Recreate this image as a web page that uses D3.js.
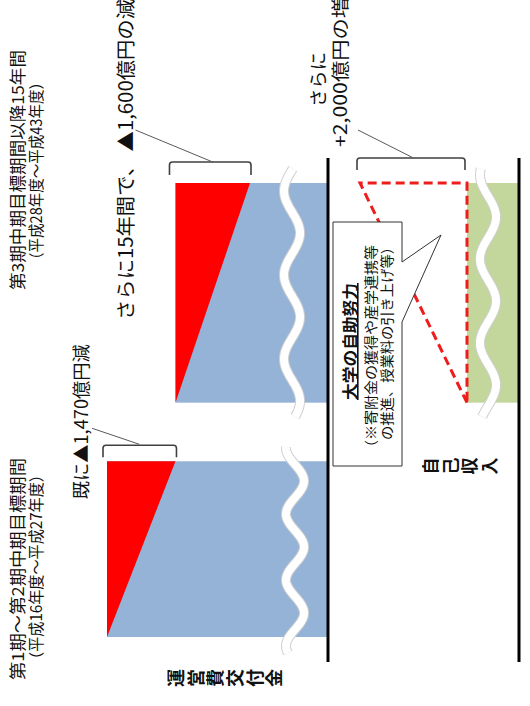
<!DOCTYPE html>
<html>
<head>
<meta charset="utf-8">
<script src="https://cdn.jsdelivr.net/npm/d3@7"></script>
<style>
  html, body { margin: 0; padding: 0; background: #fff; }
  svg { display: block; }
  text { font-family: "Noto Sans CJK JP", "Noto Sans", sans-serif; fill: #111; }
</style>
</head>
<body>
<svg id="chart" width="530" height="706"></svg>
<script>
// ---- data -------------------------------------------------------------
const periodTitles = ["第1期〜第2期中期目標期間", "第3期中期目標期間以降15年間"];
const periodSpans  = ["（平成16年度〜平成27年度）", "（平成28年度〜平成43年度）"];
const periodYears  = [12, 15];

// operating grant (億円): level at the start and at the end of each period
const grantStart = [12415, 10945];
const grantEnd   = [10945, 9345];

// growth of self income over the 3rd period onwards (億円)
const selfIncrease = [2000];

const changeLabels   = ["既に▲1,470億円減", "さらに15年間で、 ▲1,600億円の減"];
const increaseLabels = ["さらに", "+2,000億円の増"];
const rowLabels      = ["運営費交付金", "自己収入"];
const calloutTitle   = "大学の自助努力";
const calloutLines   = ["（※寄附金の獲得や産学連携等", "の推進、授業料の引き上げ等）"];

// ---- layout -----------------------------------------------------------
// The diagram is laid out in a landscape frame (706 x 530) and turned a
// quarter turn counter-clockwise onto the portrait page.
const svg = d3.select("#chart");
const g = svg.append("g").attr("transform", "translate(0,706) rotate(-90)");

const GAP_YEARS = 4;
const yearStart = [0, periodYears[0] + GAP_YEARS];
const x = d3.scaleLinear()
  .domain([0, periodYears[0] + GAP_YEARS + periodYears[1]])
  .range([69, 523]);

const grantBase = 328;   // grant panel baseline
const selfBase  = 519;   // self income panel baseline
const grantY = d3.scaleLinear().domain([12415, 9345]).range([107, 250]);
const selfY  = d3.scaleLinear().domain([0, 2000]).range([467, 360]);

const BLUE = "#95b3d7", GREEN = "#c3d69b", RED = "#ff0000";

const bars = periodYears.map((yrs, i) => ({
  x0: x(yearStart[i]),
  x1: x(yearStart[i] + yrs),
  yS: grantY(grantStart[i]),
  yE: grantY(grantEnd[i])
}));

// text stretched along its baseline to a given run length
function label(str, u, v, len, size, opts = {}) {
  const t = g.append("text").attr("x", u).attr("y", v)
    .attr("font-size", size).text(str);
  if (opts.bold) t.attr("font-weight", "bold");
  if (opts.underline) t.attr("text-decoration", "underline");
  if (len) t.attr("textLength", len).attr("lengthAdjust", "spacingAndGlyphs");
  return t;
}

// wavy break band across a bar (crest positions set by uPeak and period)
function wave(u0, u1, c, amp, period, uPeak) {
  const pts = d3.range(u0, u1 + 0.5, 1)
    .map(u => [u, c + amp * Math.cos(2 * Math.PI * (u - uPeak) / period)]);
  return d3.line()(pts);
}
function drawBreak(u0, u1, c, amp, period, uPeak) {
  const d = wave(u0, u1, c, amp, period, uPeak);
  g.append("path").attr("d", d).attr("fill", "none")
    .attr("stroke", "#cfcfcf").attr("stroke-width", 10);
  g.append("path").attr("d", d).attr("fill", "none")
    .attr("stroke", "#fff").attr("stroke-width", 8);
}

// bracket standing beside a bar, ticks pointing back toward it
function bracket(uLine, uTick, v0, v1) {
  const r = 3;
  const d = `M${uTick},${v0} L${uLine - r},${v0} Q${uLine},${v0} ${uLine},${v0 + r}` +
            ` L${uLine},${v1 - r} Q${uLine},${v1} ${uLine - r},${v1} L${uTick},${v1}`;
  g.append("path").attr("d", d).attr("fill", "none")
    .attr("stroke", "#404040").attr("stroke-width", 1.6);
}
function leader(a, b) {
  g.append("line").attr("x1", a[0]).attr("y1", a[1]).attr("x2", b[0]).attr("y2", b[1])
    .attr("stroke", "#595959").attr("stroke-width", 1);
}

// ---- operating grant bars ----------------------------------------------
g.selectAll("rect.grant").data(bars).join("rect")
  .attr("class", "grant")
  .attr("x", d => d.x0).attr("y", d => d.yS)
  .attr("width", d => d.x1 - d.x0).attr("height", d => grantBase - d.yS)
  .attr("fill", BLUE);

g.selectAll("path.cut").data(bars).join("path")
  .attr("class", "cut")
  .attr("d", d => d3.line()([[d.x0, d.yS], [d.x1, d.yS], [d.x1, d.yE]]) + "Z")
  .attr("fill", RED);

// ---- self income bar and projected increase ----------------------------
const sx0 = x(yearStart[1]), sx1 = x(yearStart[1] + periodYears[1]);
g.append("rect")
  .attr("x", sx0).attr("y", selfY(0))
  .attr("width", sx1 - sx0).attr("height", selfBase - selfY(0))
  .attr("fill", GREEN);

// axis breaks
drawBreak(bars[0].x0 - 16, bars[0].x1 + 14, 295, 9, 66, 225);
drawBreak(bars[1].x0 - 14, bars[1].x1 + 14, 292, 8, 84, 473);
drawBreak(sx0 - 14, sx1 + 14, 488, 8, 84, 489);

g.append("path")
  .attr("d", d3.line()([[sx0, selfY(0)], [sx1, selfY(selfIncrease[0])], [sx1, selfY(0)]]) + "Z")
  .attr("fill", "none").attr("stroke", "#ee1c1c")
  .attr("stroke-width", 3).attr("stroke-dasharray", "9,5");

// baselines
[grantBase, selfBase].forEach(v => {
  g.append("line").attr("x1", 44).attr("x2", 548).attr("y1", v).attr("y2", v)
    .attr("stroke", "#000").attr("stroke-width", 3);
});

// ---- brackets, leaders and change labels --------------------------------
const b0 = bars[0], b1 = bars[1];
bracket(b0.x1 + 16, b0.x1 + 4, b0.yS - 4, b0.yE + 1);
leader([b0.x1 + 17, (b0.yS + b0.yE) / 2 - 2], [b0.x1 + 33, b0.yS - 15]);
label(changeLabels[0], b0.x1 - 38, b0.yS - 19, 155, 18);

bracket(b1.x1 + 21, b1.x1 + 8, b1.yS - 6, b1.yE + 1);
leader([b1.x1 + 21, (b1.yS + b1.yE) / 2], [b1.x1 + 53, b1.yS - 40]);
label(changeLabels[1], b1.x1 - 137, b1.yS - 42, 321, 19.5);

const sTop = selfY(selfIncrease[0]), sBot = selfY(0);
bracket(sx1 + 25, sx1 + 13, sTop - 3, sBot - 2);
leader([sx1 + 25, (sTop + sBot) / 2], [sx1 + 53, sTop - 2]);
label(increaseLabels[0], sx1 + 76, sTop - 35, 55, 18.5);
label(increaseLabels[1], sx1 + 36, sTop - 13, 150, 18.5);

// ---- period titles -------------------------------------------------------
const titleRuns = [[26, 222], [416, 240]];
const spanRuns  = [[39, 200], [439, 192]];
periodTitles.forEach((t, i) => {
  label(t, titleRuns[i][0], 24, titleRuns[i][1], 16.5);
  label(periodSpans[i], spanRuns[i][0], 42, spanRuns[i][1], 15.5);
});

// ---- vertical row labels ---------------------------------------------------
function verticalLabel(str, u, v0, step, size) {
  Array.from(str).forEach((ch, i) => {
    g.append("text").attr("x", u).attr("y", v0 + step * (i + 0.5))
      .attr("text-anchor", "middle").attr("dominant-baseline", "central")
      .attr("font-size", size).attr("font-weight", "bold").text(ch);
  });
}
verticalLabel(rowLabels[0], 28, 165, 19.7, 18);
verticalLabel(rowLabels[1], 240, 420, 19.5, 17);

// ---- callout -----------------------------------------------------------------
const box = { u0: 240, u1: 484, v0: 333, v1: 402 };
g.append("path")
  .attr("d", `M${box.u0},${box.v0} H${box.u1} V${box.v1} H444 L471,441 L384,${box.v1} H${box.u0} Z`)
  .attr("fill", "#fff").attr("stroke", "#333").attr("stroke-width", 1);
label(calloutTitle, 306, 356, 117, 16, { bold: true, underline: true });
label(calloutLines[0], 251, 376, 210, 14);
label(calloutLines[1], 266, 392, 200, 14);
</script>
</body>
</html>
